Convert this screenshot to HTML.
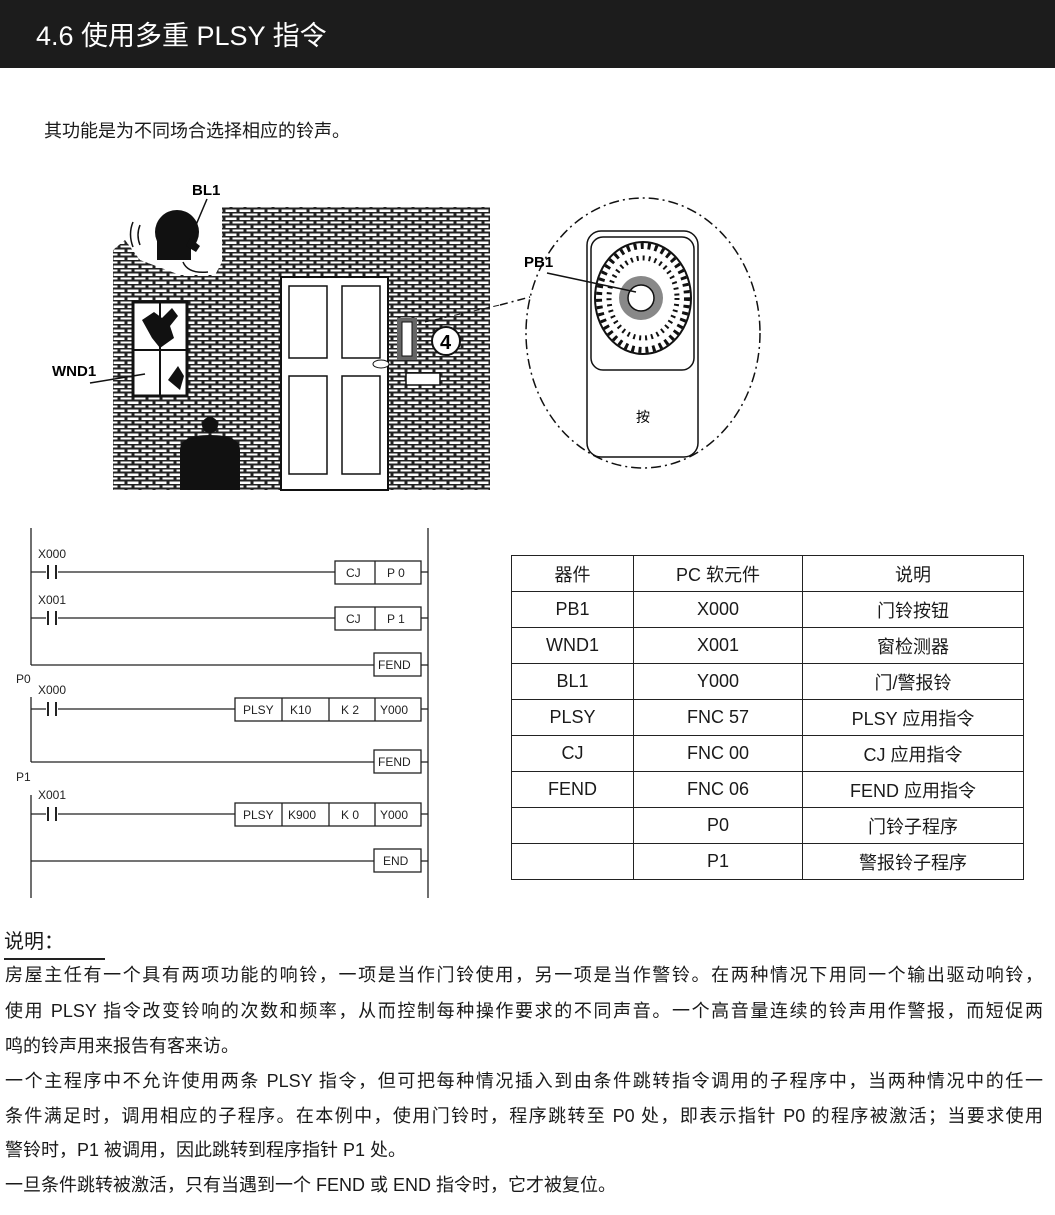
<!DOCTYPE html>
<html><head><meta charset="utf-8"><style>
body{margin:0;width:1055px;height:1215px;background:#fff;position:relative;overflow:hidden;font-family:"Liberation Sans","Noto Sans CJK SC",sans-serif;color:#1a1a1a}
.hdr{position:absolute;left:0;top:0;width:1055px;height:68px;background:#1c1c1c;color:#fff;font-size:27px;line-height:72px;padding-left:36px;box-sizing:border-box}
.t{position:absolute;font-size:18px;white-space:nowrap;line-height:20px}
.j{text-align:justify;text-align-last:justify;width:1038px;left:5px}
table{position:absolute;left:511px;top:555px;border-collapse:collapse;font-size:18px}
td{border:1px solid #222;height:35px;text-align:center;padding:0}
</style></head><body>
<div class="hdr">4.6 使用多重 PLSY 指令</div>
<div class="t" style="left:44px;top:121px;font-size:18px">其功能是为不同场合选择相应的铃声。</div>

<svg style="position:absolute;left:0;top:0" width="1055" height="920">
<defs>
<pattern id="br" width="14" height="8" patternUnits="userSpaceOnUse">
<rect width="14" height="8" fill="#222"/>
<rect x="1.5" y="1.5" width="11" height="2.5" fill="#fff"/>
<rect x="-5.5" y="5.5" width="11" height="2" fill="#fff"/>
<rect x="8.5" y="5.5" width="11" height="2" fill="#fff"/>
</pattern>
</defs>
<path d="M222,207 H490 V490 H113 V250 L125,240 L140,260 L180,275 L215,275 L222,262 Z" fill="url(#br)"/>
<circle cx="177" cy="232" r="22" fill="#111"/>
<rect x="157" y="232" width="34" height="28" fill="#111"/>
<path d="M190,238 l10,8 -4,6 -10,-6z" fill="#111"/>
<path d="M183,262 q5,12 25,10" stroke="#111" fill="none" stroke-width="1.5"/>
<path d="M140,225 q-4,10 0,20 M133,222 q-5,12 0,25" stroke="#111" fill="none" stroke-width="1.5"/>
<text x="192" y="195" font-size="15" font-weight="bold" font-family="Liberation Sans">BL1</text>
<line x1="207" y1="199" x2="193" y2="232" stroke="#111" stroke-width="1.5"/>
<rect x="133" y="302" width="54" height="94" fill="#fff" stroke="#111" stroke-width="3"/>
<line x1="160" y1="302" x2="160" y2="396" stroke="#111" stroke-width="2"/>
<line x1="133" y1="350" x2="187" y2="350" stroke="#111" stroke-width="2"/>
<path d="M142,320 l12,-8 8,6 10,-10 6,8 -8,10 4,12 -14,10 -8,-10z" fill="#111"/>
<path d="M168,380 l10,-14 6,10 -4,14z" fill="#111"/>
<text x="52" y="376" font-size="15" font-weight="bold" font-family="Liberation Sans">WND1</text>
<line x1="90" y1="383" x2="145" y2="374" stroke="#111" stroke-width="1.5"/>
<circle cx="210" cy="425" r="8" fill="#111"/>
<path d="M180,450 q0,-15 30,-15 q30,0 30,15 V490 H180Z" fill="#111"/>
<rect x="281" y="277" width="107" height="213" fill="#fff" stroke="#111" stroke-width="2"/>
<rect x="289" y="286" width="38" height="72" fill="#fff" stroke="#111" stroke-width="1.5"/>
<rect x="342" y="286" width="38" height="72" fill="#fff" stroke="#111" stroke-width="1.5"/>
<rect x="289" y="376" width="38" height="98" fill="#fff" stroke="#111" stroke-width="1.5"/>
<rect x="342" y="376" width="38" height="98" fill="#fff" stroke="#111" stroke-width="1.5"/>
<ellipse cx="381" cy="364" rx="8" ry="4" fill="#fff" stroke="#111"/>
<rect x="397" y="318" width="20" height="42" fill="#666"/>
<rect x="402" y="322" width="10" height="34" fill="#fff" stroke="#111"/>
<circle cx="446" cy="341" r="14" fill="#fff" stroke="#111" stroke-width="2"/>
<text x="440" y="349" font-size="20" font-weight="bold" font-family="Liberation Sans">4</text>
<rect x="406" y="373" width="34" height="12" fill="#fff" stroke="#111" stroke-width="1.5"/>
<path d="M425,322 L500,305" stroke="#111" stroke-dasharray="6,4" fill="none"/>
<ellipse cx="643" cy="333" rx="117" ry="135" fill="#fff" stroke="#111" stroke-width="1.5" stroke-dasharray="10,4,2,4"/>
<path d="M500,305 L530,297" stroke="#111" stroke-width="1.5" stroke-dasharray="8,4,2,4"/>
<rect x="587" y="231" width="111" height="226" rx="14" fill="#fff" stroke="#111" stroke-width="1.5"/>
<rect x="591" y="237" width="103" height="133" rx="12" fill="#fff" stroke="#111" stroke-width="1.5"/>
<ellipse cx="643" cy="298" rx="48" ry="56" fill="#fff" stroke="#111" stroke-width="2"/>
<ellipse cx="643" cy="298" rx="44" ry="52" fill="none" stroke="#111" stroke-width="6" stroke-dasharray="3,4"/>
<ellipse cx="643" cy="298" rx="34" ry="40" fill="none" stroke="#111" stroke-width="5" stroke-dasharray="2,4"/>
<circle cx="641" cy="298" r="22" fill="#888"/>
<circle cx="641" cy="298" r="13" fill="#fff" stroke="#111" stroke-width="1.5"/>
<text x="524" y="267" font-size="15" font-weight="bold" font-family="Liberation Sans">PB1</text>
<line x1="547" y1="273" x2="636" y2="292" stroke="#111" stroke-width="1.5"/>
<text x="636" y="422" font-size="14" font-family="Noto Sans CJK SC">按</text>

<g stroke="#222" stroke-width="1.3" fill="none">
<line x1="31" y1="528" x2="31" y2="665"/>
<line x1="31" y1="697" x2="31" y2="762"/>
<line x1="31" y1="795" x2="31" y2="898"/>
<line x1="428" y1="528" x2="428" y2="898"/>
<line x1="31" y1="572" x2="335" y2="572"/><line x1="421" y1="572" x2="428" y2="572"/>
<line x1="31" y1="618" x2="335" y2="618"/><line x1="421" y1="618" x2="428" y2="618"/>
<line x1="31" y1="665" x2="374" y2="665"/><line x1="421" y1="665" x2="428" y2="665"/>
<line x1="31" y1="709" x2="235" y2="709"/><line x1="421" y1="709" x2="428" y2="709"/>
<line x1="31" y1="762" x2="374" y2="762"/><line x1="421" y1="762" x2="428" y2="762"/>
<line x1="31" y1="814" x2="235" y2="814"/><line x1="421" y1="814" x2="428" y2="814"/>
<line x1="31" y1="861" x2="374" y2="861"/><line x1="421" y1="861" x2="428" y2="861"/>
<rect x="335" y="561" width="86" height="23"/><line x1="375" y1="561" x2="375" y2="584"/>
<rect x="335" y="607" width="86" height="23"/><line x1="375" y1="607" x2="375" y2="630"/>
<rect x="374" y="653" width="47" height="23"/>
<rect x="235" y="698" width="186" height="23"/><line x1="282" y1="698" x2="282" y2="721"/><line x1="329" y1="698" x2="329" y2="721"/><line x1="375" y1="698" x2="375" y2="721"/>
<rect x="374" y="750" width="47" height="23"/>
<rect x="235" y="803" width="186" height="23"/><line x1="282" y1="803" x2="282" y2="826"/><line x1="329" y1="803" x2="329" y2="826"/><line x1="375" y1="803" x2="375" y2="826"/>
<rect x="374" y="849" width="47" height="23"/>
</g>
<g fill="#fff">
<rect x="46" y="565" width="12" height="14"/><rect x="46" y="611" width="12" height="14"/><rect x="46" y="702" width="12" height="14"/><rect x="46" y="807" width="12" height="14"/>
</g>
<g stroke="#222" stroke-width="2">
<line x1="48" y1="565" x2="48" y2="579"/><line x1="56" y1="565" x2="56" y2="579"/>
<line x1="48" y1="611" x2="48" y2="625"/><line x1="56" y1="611" x2="56" y2="625"/>
<line x1="48" y1="702" x2="48" y2="716"/><line x1="56" y1="702" x2="56" y2="716"/>
<line x1="48" y1="807" x2="48" y2="821"/><line x1="56" y1="807" x2="56" y2="821"/>
</g>
<g font-family="Liberation Sans" font-size="12" fill="#222">
<text x="38" y="558">X000</text><text x="38" y="604">X001</text>
<text x="16" y="683">P0</text><text x="38" y="694">X000</text>
<text x="16" y="781">P1</text><text x="38" y="799">X001</text>
<text x="346" y="577">CJ</text><text x="387" y="577">P 0</text>
<text x="346" y="623">CJ</text><text x="387" y="623">P 1</text>
<text x="378" y="669">FEND</text>
<text x="243" y="714">PLSY</text><text x="290" y="714">K10</text><text x="341" y="714">K 2</text><text x="380" y="714">Y000</text>
<text x="378" y="766">FEND</text>
<text x="243" y="819">PLSY</text><text x="288" y="819">K900</text><text x="341" y="819">K 0</text><text x="380" y="819">Y000</text>
<text x="383" y="865">END</text>
</g>
</svg>

<table>
<tr><td style="width:121px">器件</td><td style="width:168px">PC 软元件</td><td style="width:220px">说明</td></tr>
<tr><td>PB1</td><td>X000</td><td>门铃按钮</td></tr>
<tr><td>WND1</td><td>X001</td><td>窗检测器</td></tr>
<tr><td>BL1</td><td>Y000</td><td>门/警报铃</td></tr>
<tr><td>PLSY</td><td>FNC 57</td><td>PLSY 应用指令</td></tr>
<tr><td>CJ</td><td>FNC 00</td><td>CJ 应用指令</td></tr>
<tr><td>FEND</td><td>FNC 06</td><td>FEND 应用指令</td></tr>
<tr><td></td><td>P0</td><td>门铃子程序</td></tr>
<tr><td></td><td>P1</td><td>警报铃子程序</td></tr>
</table>

<div class="t" style="left:4px;top:930px;font-size:20px;line-height:24px">说明：</div>
<div style="position:absolute;left:4px;top:958px;width:101px;height:2px;background:#222"></div>
<div class="t j" style="top:965px">房屋主任有一个具有两项功能的响铃，一项是当作门铃使用，另一项是当作警铃。在两种情况下用同一个输出驱动响铃，</div>
<div class="t j" style="top:1001px">使用 PLSY 指令改变铃响的次数和频率，从而控制每种操作要求的不同声音。一个高音量连续的铃声用作警报，而短促两</div>
<div class="t" style="left:5px;top:1036px">鸣的铃声用来报告有客来访。</div>
<div class="t j" style="top:1071px">一个主程序中不允许使用两条 PLSY 指令，但可把每种情况插入到由条件跳转指令调用的子程序中，当两种情况中的任一</div>
<div class="t j" style="top:1106px">条件满足时，调用相应的子程序。在本例中，使用门铃时，程序跳转至 P0 处，即表示指针 P0 的程序被激活；当要求使用</div>
<div class="t" style="left:5px;top:1140px">警铃时，P1 被调用，因此跳转到程序指针 P1 处。</div>
<div class="t" style="left:5px;top:1175px">一旦条件跳转被激活，只有当遇到一个 FEND 或 END 指令时，它才被复位。</div>
</body></html>
